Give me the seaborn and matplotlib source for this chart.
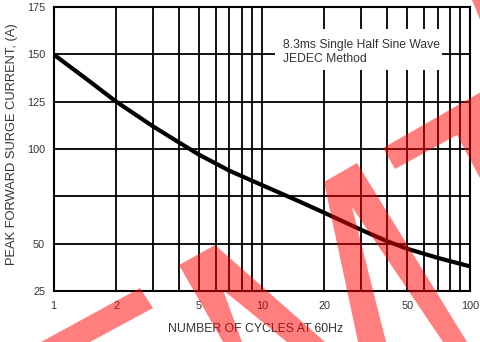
import numpy as np
import pandas as pd
import matplotlib
matplotlib.use("Agg")
import matplotlib.pyplot as plt
from matplotlib.patches import Polygon, Rectangle
import seaborn as sns

# ---- data ----
cycles = [1, 1.5, 2, 3, 4, 5, 7, 10, 15, 20, 30, 40, 50, 70, 100]
current = [150, 135.5, 125, 112, 103.5, 97, 88.5, 81, 72.5, 66.3,
           57.3, 51.3, 47.3, 42.5, 38]
x_major = [1, 2, 5, 10, 20, 50, 100]
x_major_labels = ["1", "2", "5", "10", "20", "50", "100"]
x_minor = [3, 4, 6, 7, 8, 9, 30, 40, 60, 70, 80, 90]
y_ticks = [25, 50, 75, 100, 125, 150, 175]
y_labels = ["25", "50", "", "100", "125", "150", "175"]
note_text = "8.3ms Single Half Sine Wave\nJEDEC Method"
x_title = "NUMBER OF CYCLES AT 60Hz"
y_title = "PEAK FORWARD SURGE CURRENT, (A)"

sns.set_style("white")
plt.rcParams["font.family"] = ["Liberation Sans", "DejaVu Sans"]

W, H = 481, 342
fig = plt.figure(figsize=(W / 100, H / 100), dpi=100)
L, R, T, B = 53.5, 470, 7, 291
ax = fig.add_axes([L / W, 1 - B / H, (R - L) / W, (B - T) / H])

df = pd.DataFrame({"cycles": cycles, "current": current})
sns.lineplot(data=df, x="cycles", y="current", ax=ax, color="black",
             linewidth=3.0, zorder=3)

ax.set_xscale("log")
ax.set_xlim(1, 100)
ax.set_ylim(25, 175)
ax.set_xticks(x_major)
ax.set_xticklabels(x_major_labels)
ax.set_xticks(x_minor, minor=True)
ax.xaxis.set_minor_formatter(matplotlib.ticker.NullFormatter())
ax.set_yticks(y_ticks)
ax.set_yticklabels(y_labels)
ax.tick_params(which="both", length=0, labelsize=7.8, labelcolor="#333333")
ax.tick_params(axis="x", pad=7)
ax.tick_params(axis="y", pad=6)
ax.set_axisbelow(True)
ax.grid(which="both", axis="x", color="black", linewidth=1.3)
ax.grid(which="major", axis="y", color="black", linewidth=1.3)
for s in ax.spines.values():
    s.set_color("black")
    s.set_linewidth(1.5)

ax.set_xlabel(x_title, fontsize=8.8, color="#333333")
ax.set_ylabel(y_title, fontsize=9.3, color="#333333")
ax.xaxis.label.set_va("center")
ax.yaxis.label.set_va("center")
ax.xaxis.set_label_coords((255.5 - L) / (R - L), (B - 329) / (B - T))
ax.yaxis.set_label_coords((12 - L) / (R - L), (B - 144) / (B - T))

# white note box covering the grid
ax.add_patch(Rectangle(((275 - L) / (R - L), (B - 70) / (B - T)),
                       (442 - 275) / (R - L), 41 / (B - T),
                       transform=ax.transAxes, facecolor="white",
                       edgecolor="none", zorder=4))
ax.text((283 - L) / (R - L), (B - 52) / (B - T), note_text,
        transform=ax.transAxes, fontsize=8.7, color="#333333",
        ha="left", va="center", linespacing=1.25, zorder=5)

# red watermark strokes (figure pixel coords)
shapes = [
    [(140, 288), (153, 308), (90, 342), (41, 342)],
    [(179, 265), (215, 245), (325, 342), (287, 342), (223, 290), (242, 342), (223, 342)],
    [(324, 182), (357, 163), (467, 342), (443, 342), (352, 207), (386, 342), (358, 342)],
    [(383, 148), (481, 92), (481, 180), (457, 135), (395, 169)],
    [(472, 0), (481, 0), (481, 22)],
]
for pts in shapes:
    xy = [(px / W, 1 - py / H) for px, py in pts]
    fig.patches.append(Polygon(xy, closed=True, transform=fig.transFigure,
                               facecolor=(1, 0, 0), alpha=0.5,
                               edgecolor="none", zorder=10))

fig.savefig("out.png", dpi=100)
